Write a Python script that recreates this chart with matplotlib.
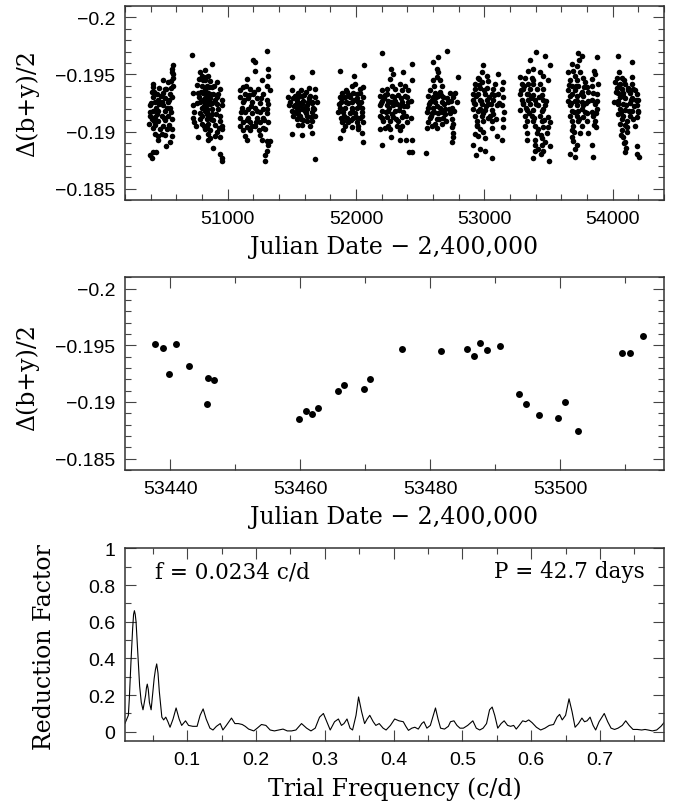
import matplotlib
matplotlib.use("Agg")
import matplotlib.pyplot as plt
from matplotlib.ticker import MultipleLocator, FuncFormatter

# ---- top panel: all seasons, (JD-2400000, delta mag) ----
s1 = [(50576,-0.1958),(50569,-0.1955),(50563,-0.1952),(50571,-0.1947),(50493,-0.1945),(50532,-0.1943),(50576,-0.1940),(50415,-0.1942),(50420,-0.1939),(50465,-0.1938),(50519,-0.1937),(50561,-0.1938),(50410,-0.1935),(50446,-0.1933),(50498,-0.1934),(50550,-0.1933),(50420,-0.1930),(50459,-0.1928),(50511,-0.1929),(50563,-0.1930),(50433,-0.1926),(50485,-0.1926),(50537,-0.1926),(50394,-0.1923),(50441,-0.1921),(50498,-0.1923),(50550,-0.1921),(50415,-0.1918),(50459,-0.1918),(50511,-0.1918),(50394,-0.1914),(50433,-0.1913),(50485,-0.1914),(50537,-0.1914),(50407,-0.1911),(50459,-0.1909),(50511,-0.1910),(50563,-0.1911),(50389,-0.1907),(50433,-0.1906),(50493,-0.1905),(50545,-0.1906),(50415,-0.1903),(50472,-0.1902),(50524,-0.1902),(50566,-0.1902),(50459,-0.1896),(50511,-0.1897),(50563,-0.1896),(50459,-0.1893),(50550,-0.1891),(50519,-0.1887),(50420,-0.1882),(50441,-0.1882),(50394,-0.1879),(50407,-0.1877)]
s1b = [(50402,-0.1925),(50428,-0.1935),(50452,-0.1915),(50478,-0.1931),(50504,-0.1912),(50528,-0.1921),(50556,-0.1944),(50574,-0.1950),(50545,-0.1928),(50490,-0.1898),(50426,-0.1909),(50468,-0.1924),(50398,-0.1917),(50515,-0.1937),(50558,-0.1917),(50437,-0.1898)]
s2 = [(50719,-0.1967),(50875,-0.1959),(50823,-0.1954),(50784,-0.1952),(50797,-0.1949),(50849,-0.1949),(50779,-0.1946),(50823,-0.1945),(50862,-0.1944),(50914,-0.1943),(50758,-0.1941),(50797,-0.1940),(50836,-0.1940),(50875,-0.1939),(50940,-0.1937),(50732,-0.1934),(50771,-0.1934),(50810,-0.1934),(50849,-0.1934),(50888,-0.1933),(50927,-0.1933),(50779,-0.1930),(50823,-0.1929),(50862,-0.1929),(50901,-0.1928),(50953,-0.1928),(50784,-0.1926),(50823,-0.1925),(50862,-0.1924),(50914,-0.1924),(50953,-0.1923),(50732,-0.1923),(50797,-0.1921),(50836,-0.1920),(50875,-0.1920),(50927,-0.1920),(50737,-0.1917),(50784,-0.1916),(50836,-0.1915),(50875,-0.1915),(50940,-0.1914),(50732,-0.1912),(50784,-0.1911),(50836,-0.1911),(50888,-0.1910),(50940,-0.1909),(50737,-0.1908),(50797,-0.1907),(50849,-0.1907),(50901,-0.1906),(50953,-0.1905),(50823,-0.1902),(50862,-0.1901),(50914,-0.1900),(50953,-0.1902),(50849,-0.1898),(50901,-0.1896),(50940,-0.1895),(50771,-0.1895),(50849,-0.1893),(50888,-0.1886),(50940,-0.1880),(50953,-0.1877),(50953,-0.1874),(50823,-0.1937),(50836,-0.1931),(50823,-0.1918),(50849,-0.1913),(50810,-0.1928),(50849,-0.1926),(50836,-0.1924),(50862,-0.1933)]
s2b = [(50806,-0.1945),(50816,-0.1922),(50829,-0.1935),(50842,-0.1917),(50855,-0.1939),(50868,-0.1911),(50818,-0.1905),(50843,-0.1903),(50829,-0.1948),(50856,-0.1927),(50881,-0.1925),(50893,-0.1940),(50907,-0.1915),(50920,-0.1930),(50765,-0.1925),(50750,-0.1905),(50790,-0.1935),(50804,-0.1914),(50866,-0.1894),(50934,-0.1903)]
s3 = [(51309,-0.1971),(51200,-0.1963),(51213,-0.1961),(51213,-0.1953),(51317,-0.1955),(51312,-0.1949),(51148,-0.1946),(51265,-0.1945),(51304,-0.1940),(51122,-0.1939),(51096,-0.1936),(51174,-0.1937),(51239,-0.1937),(51330,-0.1936),(51135,-0.1933),(51200,-0.1933),(51278,-0.1933),(51096,-0.1930),(51161,-0.1929),(51226,-0.1929),(51304,-0.1928),(51122,-0.1926),(51187,-0.1926),(51252,-0.1925),(51317,-0.1924),(51109,-0.1921),(51161,-0.1920),(51213,-0.1921),(51278,-0.1920),(51135,-0.1917),(51187,-0.1916),(51252,-0.1917),(51304,-0.1916),(51096,-0.1912),(51161,-0.1912),(51226,-0.1912),(51278,-0.1912),(51122,-0.1908),(51174,-0.1908),(51252,-0.1908),(51317,-0.1908),(51096,-0.1905),(51148,-0.1904),(51213,-0.1905),(51278,-0.1903),(51122,-0.1901),(51174,-0.1901),(51291,-0.1902),(51135,-0.1896),(51252,-0.1897),(51148,-0.1893),(51265,-0.1893),(51304,-0.1892),(51330,-0.1892),(51317,-0.1888),(51304,-0.1883),(51291,-0.1879),(51291,-0.1874)]
s3b = [(51103,-0.1917),(51129,-0.1928),(51154,-0.1910),(51180,-0.1922),(51206,-0.1935),(51232,-0.1918),(51258,-0.1929),(51284,-0.1910),(51310,-0.1920),(51143,-0.1940),(51192,-0.1905),(51245,-0.1901),(51218,-0.1908),(51168,-0.1932)]
s4 = [(51654,-0.1952),(51499,-0.1948),(51636,-0.1938),(51610,-0.1935),(51499,-0.1936),(51551,-0.1934),(51680,-0.1937),(51473,-0.1930),(51525,-0.1931),(51577,-0.1931),(51641,-0.1931),(51680,-0.1930),(51486,-0.1926),(51538,-0.1927),(51590,-0.1927),(51654,-0.1926),(51693,-0.1926),(51480,-0.1923),(51525,-0.1923),(51564,-0.1923),(51615,-0.1923),(51667,-0.1921),(51499,-0.1918),(51551,-0.1918),(51603,-0.1918),(51654,-0.1917),(51512,-0.1914),(51564,-0.1914),(51615,-0.1914),(51680,-0.1914),(51538,-0.1911),(51590,-0.1910),(51654,-0.1909),(51551,-0.1906),(51577,-0.1906),(51641,-0.1905),(51499,-0.1898),(51577,-0.1897),(51654,-0.1899),(51680,-0.1876),(51538,-0.1921),(51577,-0.1924),(51603,-0.1921),(51551,-0.1915),(51628,-0.1926)]
s4b = [(51506,-0.1929),(51531,-0.1917),(51545,-0.1930),(51558,-0.1925),(51570,-0.1911),(51583,-0.1920),(51596,-0.1932),(51609,-0.1916),(51622,-0.1920),(51635,-0.1929),(51648,-0.1913),(51661,-0.1925),(51674,-0.1920),(51519,-0.1922),(51571,-0.1936),(51620,-0.1909)]
s5 = [(51875,-0.1953),(52065,-0.1958),(51987,-0.1949),(51992,-0.1942),(51966,-0.1940),(52057,-0.1939),(52031,-0.1937),(51888,-0.1934),(51927,-0.1935),(51979,-0.1934),(52031,-0.1934),(51875,-0.1930),(51914,-0.1930),(51953,-0.1930),(52005,-0.1929),(52057,-0.1930),(51881,-0.1926),(51922,-0.1926),(51966,-0.1926),(52018,-0.1926),(51875,-0.1921),(51914,-0.1921),(51966,-0.1921),(52005,-0.1921),(52044,-0.1921),(51862,-0.1917),(51901,-0.1917),(51953,-0.1916),(51992,-0.1916),(52044,-0.1917),(51881,-0.1912),(51927,-0.1912),(51979,-0.1912),(52031,-0.1912),(51888,-0.1908),(51940,-0.1908),(52005,-0.1908),(52057,-0.1908),(51914,-0.1905),(51966,-0.1904),(52018,-0.1905),(51901,-0.1901),(52044,-0.1899),(51875,-0.1894),(52057,-0.1891)]
s5b = [(51868,-0.1924),(51894,-0.1929),(51908,-0.1914),(51934,-0.1925),(51946,-0.1932),(51960,-0.1910),(51972,-0.1918),(51985,-0.1928),(51998,-0.1913),(52011,-0.1933),(52024,-0.1922),(52037,-0.1926),(52050,-0.1914),(51895,-0.1909),(51920,-0.1936),(52015,-0.1902)]
s6 = [(52200,-0.1969),(52270,-0.1955),(52286,-0.1950),(52369,-0.1952),(52265,-0.1946),(52343,-0.1942),(52382,-0.1940),(52200,-0.1936),(52239,-0.1937),(52304,-0.1937),(52356,-0.1936),(52408,-0.1936),(52187,-0.1931),(52226,-0.1932),(52278,-0.1931),(52330,-0.1932),(52382,-0.1931),(52200,-0.1927),(52252,-0.1927),(52304,-0.1927),(52356,-0.1926),(52408,-0.1926),(52187,-0.1923),(52239,-0.1923),(52291,-0.1923),(52343,-0.1922),(52395,-0.1922),(52200,-0.1918),(52252,-0.1918),(52304,-0.1918),(52369,-0.1917),(52187,-0.1914),(52239,-0.1913),(52291,-0.1913),(52356,-0.1913),(52213,-0.1909),(52265,-0.1909),(52330,-0.1909),(52395,-0.1908),(52252,-0.1905),(52317,-0.1905),(52187,-0.1902),(52265,-0.1902),(52343,-0.1901),(52270,-0.1895),(52343,-0.1893),(52390,-0.1893),(52200,-0.1888),(52416,-0.1882),(52434,-0.1959),(52434,-0.1945),(52429,-0.1927),(52429,-0.1912),(52434,-0.1893),(52434,-0.1882)]
s6b = [(52193,-0.1925),(52206,-0.1912),(52219,-0.1929),(52232,-0.1917),(52245,-0.1933),(52258,-0.1921),(52271,-0.1926),(52284,-0.1915),(52297,-0.1930),(52310,-0.1911),(52323,-0.1924),(52336,-0.1919),(52349,-0.1929),(52362,-0.1905),(52375,-0.1922),(52388,-0.1914),(52401,-0.1930),(52280,-0.1940),(52225,-0.1903)]
s7 = [(52707,-0.1971),(52642,-0.1965),(52597,-0.1961),(52629,-0.1955),(52642,-0.1952),(52798,-0.1948),(52603,-0.1945),(52655,-0.1945),(52668,-0.1940),(52577,-0.1936),(52616,-0.1934),(52655,-0.1935),(52733,-0.1934),(52772,-0.1934),(52564,-0.1931),(52603,-0.1930),(52642,-0.1931),(52681,-0.1930),(52759,-0.1930),(52577,-0.1926),(52616,-0.1926),(52668,-0.1926),(52720,-0.1926),(52785,-0.1926),(52564,-0.1921),(52603,-0.1921),(52655,-0.1921),(52694,-0.1920),(52746,-0.1921),(52551,-0.1917),(52590,-0.1916),(52642,-0.1916),(52694,-0.1915),(52733,-0.1916),(52577,-0.1912),(52629,-0.1911),(52681,-0.1912),(52746,-0.1911),(52564,-0.1908),(52616,-0.1907),(52668,-0.1907),(52759,-0.1907),(52551,-0.1903),(52629,-0.1903),(52746,-0.1904),(52759,-0.1899),(52753,-0.1895),(52746,-0.1891),(52546,-0.1881)]
s7b = [(52570,-0.1924),(52583,-0.1914),(52596,-0.1928),(52609,-0.1917),(52622,-0.1930),(52635,-0.1922),(52648,-0.1911),(52661,-0.1932),(52674,-0.1917),(52687,-0.1924),(52700,-0.1909),(52713,-0.1929),(52726,-0.1920),(52740,-0.1927),(52765,-0.1918),(52610,-0.1940),(52635,-0.1948),(52596,-0.1905)]
s8 = [(52987,-0.1958),(52979,-0.1952),(52953,-0.1947),(53018,-0.1949),(53109,-0.1950),(52927,-0.1942),(52979,-0.1943),(53031,-0.1944),(53083,-0.1942),(52927,-0.1937),(52966,-0.1938),(53018,-0.1938),(53070,-0.1937),(52914,-0.1933),(52953,-0.1933),(53005,-0.1933),(53057,-0.1933),(53109,-0.1933),(52914,-0.1928),(52966,-0.1928),(53018,-0.1928),(53070,-0.1928),(52927,-0.1924),(52979,-0.1924),(53031,-0.1924),(53096,-0.1923),(52914,-0.1920),(52966,-0.1920),(53005,-0.1919),(53057,-0.1919),(52927,-0.1914),(52979,-0.1914),(53044,-0.1914),(52940,-0.1909),(52992,-0.1909),(53057,-0.1909),(52940,-0.1906),(52966,-0.1902),(53057,-0.1903),(52927,-0.1898),(52953,-0.1896),(53005,-0.1894),(53096,-0.1896),(52914,-0.1888),(52966,-0.1885),(52935,-0.1879),(53005,-0.1883),(53057,-0.1877),(53148,-0.1943),(53135,-0.1937),(53148,-0.1930),(53135,-0.1923),(53153,-0.1917),(53143,-0.1911),(53148,-0.1904),(53135,-0.1893)]
s8b = [(52920,-0.1925),(52934,-0.1931),(52947,-0.1918),(52960,-0.1941),(52973,-0.1927),(52986,-0.1916),(52999,-0.1936),(53012,-0.1922),(53025,-0.1912),(53038,-0.1930),(53051,-0.1924),(53064,-0.1915),(53077,-0.1932),(53090,-0.1911),(52946,-0.1905),(52990,-0.1900),(52960,-0.1946),(53118,-0.1925)]
s9 = [(53403,-0.1970),(53473,-0.1966),(53356,-0.1963),(53512,-0.1958),(53382,-0.1955),(53343,-0.1953),(53434,-0.1952),(53460,-0.1949),(53278,-0.1948),(53317,-0.1947),(53369,-0.1947),(53499,-0.1945),(53291,-0.1942),(53343,-0.1942),(53382,-0.1942),(53434,-0.1942),(53304,-0.1937),(53356,-0.1937),(53408,-0.1937),(53460,-0.1937),(53278,-0.1933),(53330,-0.1933),(53382,-0.1932),(53447,-0.1932),(53291,-0.1928),(53343,-0.1928),(53395,-0.1928),(53460,-0.1928),(53304,-0.1924),(53356,-0.1924),(53421,-0.1923),(53473,-0.1923),(53278,-0.1919),(53330,-0.1919),(53382,-0.1919),(53447,-0.1918),(53317,-0.1914),(53369,-0.1914),(53434,-0.1914),(53499,-0.1913),(53330,-0.1909),(53382,-0.1909),(53447,-0.1909),(53512,-0.1908),(53317,-0.1905),(53395,-0.1905),(53460,-0.1904),(53330,-0.1899),(53408,-0.1899),(53486,-0.1899),(53330,-0.1893),(53395,-0.1893),(53447,-0.1894),(53395,-0.1888),(53447,-0.1888),(53512,-0.1887),(53395,-0.1883),(53460,-0.1883),(53382,-0.1877),(53507,-0.1874)]
s9b = [(53285,-0.1936),(53298,-0.1925),(53311,-0.1940),(53324,-0.1921),(53337,-0.1933),(53350,-0.1916),(53363,-0.1929),(53376,-0.1945),(53389,-0.1912),(53402,-0.1924),(53415,-0.1902),(53428,-0.1930),(53441,-0.1897),(53454,-0.1920),(53467,-0.1910),(53480,-0.1927),(53493,-0.1904),(53415,-0.1885),(53440,-0.1880),(53470,-0.1891)]
s10 = [(53733,-0.1969),(53759,-0.1966),(53741,-0.1963),(53681,-0.1959),(53655,-0.1952),(53746,-0.1952),(53707,-0.1949),(53772,-0.1947),(53668,-0.1945),(53720,-0.1945),(53785,-0.1943),(53681,-0.1940),(53733,-0.1940),(53798,-0.1939),(53655,-0.1936),(53707,-0.1936),(53759,-0.1935),(53811,-0.1935),(53668,-0.1931),(53720,-0.1931),(53772,-0.1931),(53655,-0.1927),(53707,-0.1927),(53759,-0.1926),(53811,-0.1927),(53668,-0.1923),(53720,-0.1923),(53772,-0.1923),(53681,-0.1918),(53733,-0.1918),(53785,-0.1917),(53668,-0.1914),(53720,-0.1914),(53772,-0.1913),(53681,-0.1909),(53733,-0.1909),(53798,-0.1909),(53694,-0.1905),(53759,-0.1905),(53681,-0.1901),(53746,-0.1899),(53811,-0.1899),(53681,-0.1895),(53720,-0.1888),(53707,-0.1885),(53668,-0.1880),(53707,-0.1878),(53876,-0.1965),(53855,-0.1953),(53863,-0.1950),(53837,-0.1946),(53889,-0.1942),(53850,-0.1934),(53876,-0.1933),(53837,-0.1928),(53876,-0.1927),(53863,-0.1924),(53876,-0.1920),(53837,-0.1917),(53850,-0.1914),(53863,-0.1909),(53855,-0.1906),(53871,-0.1904),(53837,-0.1888),(53845,-0.1878)]
s10b = [(53661,-0.1941),(53674,-0.1925),(53687,-0.1933),(53700,-0.1917),(53713,-0.1940),(53726,-0.1927),(53739,-0.1911),(53752,-0.1933),(53765,-0.1920),(53778,-0.1939),(53791,-0.1925),(53804,-0.1916),(53700,-0.1900),(53690,-0.1953),(53725,-0.1957),(53842,-0.1940),(53869,-0.1916),(53688,-0.1892)]
s11 = [(54039,-0.1966),(54149,-0.1961),(54052,-0.1952),(54032,-0.1947),(54071,-0.1947),(54149,-0.1948),(54019,-0.1943),(54058,-0.1942),(54097,-0.1942),(54149,-0.1942),(54032,-0.1938),(54071,-0.1937),(54123,-0.1938),(54175,-0.1936),(54045,-0.1934),(54084,-0.1934),(54136,-0.1934),(54188,-0.1933),(54011,-0.1926),(54058,-0.1930),(54097,-0.1929),(54149,-0.1929),(54201,-0.1928),(54045,-0.1924),(54084,-0.1924),(54136,-0.1925),(54188,-0.1923),(54058,-0.1920),(54097,-0.1919),(54149,-0.1918),(54201,-0.1918),(54045,-0.1915),(54084,-0.1914),(54136,-0.1914),(54188,-0.1913),(54071,-0.1911),(54110,-0.1909),(54162,-0.1911),(54058,-0.1907),(54097,-0.1906),(54175,-0.1905),(54071,-0.1901),(54110,-0.1900),(54084,-0.1895),(54097,-0.1891),(54104,-0.1886),(54097,-0.1882),(54188,-0.1887),(54208,-0.1878),(54188,-0.1880)]
s11b = [(54025,-0.1935),(54038,-0.1927),(54051,-0.1941),(54064,-0.1917),(54077,-0.1931),(54090,-0.1945),(54103,-0.1923),(54116,-0.1936),(54129,-0.1918),(54142,-0.1928),(54155,-0.1937),(54168,-0.1922),(54181,-0.1928),(54194,-0.1917),(54065,-0.1897),(54115,-0.1904),(54090,-0.1890)]
seasons = [s1, s1b, s2, s2b, s3, s3b, s4, s4b, s5, s5b, s6, s6b,
           s7, s7b, s8, s8b, s9, s9b, s10, s10b, s11, s11b]

# ---- middle panel: spring 2005 ----
jd_mid = [53437.7, 53438.8, 53439.8, 53440.8, 53442.8, 53445.8, 53446.7, 53445.7,
          53459.8, 53460.8, 53461.8, 53462.8, 53465.8, 53466.8, 53469.8, 53470.8,
          53475.6, 53481.6, 53485.7, 53486.7, 53487.7, 53488.7, 53490.7,
          53493.7, 53494.7, 53496.7, 53499.7, 53500.7, 53502.7,
          53509.6, 53510.7, 53512.8]
dm_mid = [-0.19508, -0.19479, -0.19247, -0.19508, -0.19317, -0.19209, -0.19197, -0.18986,
          -0.18846, -0.18916, -0.18896, -0.18951, -0.19095, -0.19150, -0.19118, -0.19206,
          -0.19467, -0.19449, -0.19467, -0.19408, -0.19520, -0.19458, -0.19496,
          -0.19068, -0.18986, -0.18887, -0.18857, -0.18998, -0.18740,
          -0.19429, -0.19429, -0.19578]

# ---- bottom panel: periodogram ----
freq = [0.0097, 0.0146, 0.0160, 0.0184, 0.0208, 0.0222, 0.0234, 0.0246, 0.0258, 0.0284,
        0.0310, 0.0334, 0.0359, 0.0397, 0.0409, 0.0421, 0.0436, 0.0452, 0.0477, 0.0521,
        0.0540, 0.0558, 0.0577, 0.0596, 0.0633, 0.0659, 0.0690, 0.0721, 0.0752, 0.0796,
        0.0840, 0.0884, 0.0921, 0.0977, 0.1021, 0.1083, 0.1145, 0.1189, 0.1233, 0.1277,
        0.1332, 0.1376, 0.1426, 0.1482, 0.1520, 0.1570, 0.1645, 0.1695, 0.1744, 0.1801,
        0.1845, 0.1894, 0.1969, 0.2019, 0.2081, 0.2145, 0.2207, 0.2269, 0.2332, 0.2394,
        0.2456, 0.2519, 0.2581, 0.2663, 0.2737, 0.2800, 0.2862, 0.2925, 0.2981, 0.3031,
        0.3080, 0.3143, 0.3199, 0.3243, 0.3280, 0.3324, 0.3368, 0.3405, 0.3455, 0.3492,
        0.3536, 0.3580, 0.3617, 0.3655, 0.3705, 0.3743, 0.3792, 0.3849, 0.3892, 0.3955,
        0.4017, 0.4079, 0.4142, 0.4179, 0.4217, 0.4266, 0.4310, 0.4360, 0.4410, 0.4442,
        0.4485, 0.4535, 0.4579, 0.4610, 0.4647, 0.4684, 0.4741, 0.4797, 0.4828, 0.4878,
        0.4922, 0.4966, 0.5015, 0.5078, 0.5153, 0.5203, 0.5253, 0.5302, 0.5352, 0.5396,
        0.5434, 0.5471, 0.5515, 0.5564, 0.5608, 0.5658, 0.5702, 0.5746, 0.5784, 0.5827,
        0.5877, 0.5921, 0.5965, 0.6014, 0.6077, 0.6139, 0.6201, 0.6264, 0.6326, 0.6377,
        0.6414, 0.6452, 0.6501, 0.6551, 0.6595, 0.6639, 0.6688, 0.6738, 0.6776, 0.6813,
        0.6857, 0.6901, 0.6938, 0.6988, 0.7063, 0.7113, 0.7162, 0.7213, 0.7263, 0.7325,
        0.7375, 0.7425, 0.7481, 0.7543, 0.7607, 0.7656, 0.7700, 0.7762, 0.7825, 0.7887,
        0.7931]
power = [0.046, 0.09, 0.18, 0.38, 0.56, 0.64, 0.66, 0.64, 0.60, 0.42,
         0.25, 0.16, 0.12, 0.20, 0.24, 0.26, 0.23, 0.16, 0.12, 0.29,
         0.34, 0.37, 0.32, 0.22, 0.08, 0.065, 0.08, 0.055, 0.025, 0.07,
         0.13, 0.07, 0.035, 0.06, 0.035, 0.03, 0.03, 0.09, 0.125, 0.07,
         0.02, 0.01, 0.03, 0.045, 0.01, 0.035, 0.075, 0.045, 0.045, 0.04,
         0.03, 0.015, 0.005, 0.02, 0.04, 0.035, 0.01, 0.005, 0.01, 0.015,
         0.005, 0.005, 0.01, 0.045, 0.02, 0.005, 0.02, 0.08, 0.10, 0.055,
         0.01, 0.055, 0.07, 0.035, 0.045, 0.07, 0.02, 0.01, 0.09, 0.19,
         0.11, 0.045, 0.07, 0.09, 0.055, 0.035, 0.045, 0.02, 0.01, 0.035,
         0.07, 0.06, 0.055, 0.03, 0.008, 0.02, 0.025, 0.015, 0.045, 0.055,
         0.02, 0.035, 0.09, 0.13, 0.07, 0.02, 0.015, 0.03, 0.055, 0.06,
         0.035, 0.02, 0.02, 0.035, 0.06, 0.02, 0.01, 0.02, 0.045, 0.12,
         0.135, 0.09, 0.02, 0.045, 0.06, 0.035, 0.03, 0.035, 0.015, 0.035,
         0.06, 0.055, 0.065, 0.05, 0.025, 0.01, 0.02, 0.035, 0.04, 0.08,
         0.095, 0.065, 0.09, 0.18, 0.11, 0.025, 0.045, 0.075, 0.055, 0.06,
         0.08, 0.035, 0.01, 0.055, 0.10, 0.055, 0.02, 0.013, 0.02, 0.035,
         0.06, 0.035, 0.013, 0.013, 0.01, 0.013, 0.01, 0.005, 0.01, 0.03,
         0.05]
assert len(freq) == len(power), (len(freq), len(power))

LABEL_FONT = ["DejaVu Serif"]
TICK_FONT = ["Liberation Sans", "DejaVu Sans"]


def gfmt(v, pos):
    return ("%g" % round(v, 6)).replace("-", "\u2212")


def style(ax, xmaj, xmin, ymaj, ymin):
    ax.xaxis.set_major_locator(MultipleLocator(xmaj))
    ax.xaxis.set_minor_locator(MultipleLocator(xmin))
    ax.yaxis.set_major_locator(MultipleLocator(ymaj))
    ax.yaxis.set_minor_locator(MultipleLocator(ymin))
    ax.tick_params(which="both", direction="in", top=True, right=True,
                   width=0.8, color="#444444")
    ax.tick_params(which="major", length=8, labelsize=14, pad=7)
    ax.tick_params(which="minor", length=4)
    ax.xaxis.set_major_formatter(FuncFormatter(gfmt))
    ax.yaxis.set_major_formatter(FuncFormatter(gfmt))
    for lab in ax.get_xticklabels() + ax.get_yticklabels():
        lab.set_fontfamily(TICK_FONT)
    for sp in ax.spines.values():
        sp.set_linewidth(1.1)
        sp.set_color("#333333")


fig = plt.figure(figsize=(6.73, 8.04), dpi=100)

# top
ax1 = fig.add_axes([0.1857, 0.750, 0.8009, 0.2413])
for s in seasons:
    x, y = zip(*s)
    ax1.plot(x, y, "o", color="black", ms=4.0, mew=0)
ax1.set_xlim(50200, 54400)
ax1.set_ylim(-0.184, -0.201)
style(ax1, 1000, 200, 0.005, 0.001)
ax1.set_xlabel("Julian Date \u2212 2,400,000", fontsize=17, family=LABEL_FONT, labelpad=6)
fig.text(27.5 / 673, 0.871, "\u0394(b+y)/2", rotation=90, fontsize=17,
         family=LABEL_FONT, ha="center", va="center")

# middle
ax2 = fig.add_axes([0.1857, 0.4142, 0.8009, 0.2397])
ax2.plot(jd_mid, dm_mid, "o", color="black", ms=5.0, mew=0)
ax2.set_xlim(53433, 53516)
ax2.set_ylim(-0.184, -0.201)
style(ax2, 20, 10, 0.005, 0.001)
ax2.set_xlabel("Julian Date \u2212 2,400,000", fontsize=17, family=LABEL_FONT, labelpad=6)
fig.text(27.5 / 673, 0.530, "\u0394(b+y)/2", rotation=90, fontsize=17,
         family=LABEL_FONT, ha="center", va="center")

# bottom
ax3 = fig.add_axes([0.1857, 0.0771, 0.8009, 0.2397])
ax3.plot(freq, power, color="black", lw=0.8)
ax3.set_xlim(0.0097, 0.7931)
ax3.set_ylim(-0.05, 1.0)
style(ax3, 0.1, 0.05, 0.2, 0.1)
ax3.set_xlabel("Trial Frequency (c/d)", fontsize=17, family=LABEL_FONT, labelpad=6)
fig.text(45 / 673, 0.1946, "Reduction Factor", rotation=90, fontsize=17,
         family=LABEL_FONT, ha="center", va="center")
ax3.text(0.055, 0.88, "f = 0.0234 c/d", transform=ax3.transAxes, fontsize=15.5,
         family=LABEL_FONT, ha="left", va="center")
ax3.text(0.965, 0.88, "P = 42.7 days", transform=ax3.transAxes, fontsize=15.5,
         family=LABEL_FONT, ha="right", va="center")

fig.savefig("out.png", dpi=100)
